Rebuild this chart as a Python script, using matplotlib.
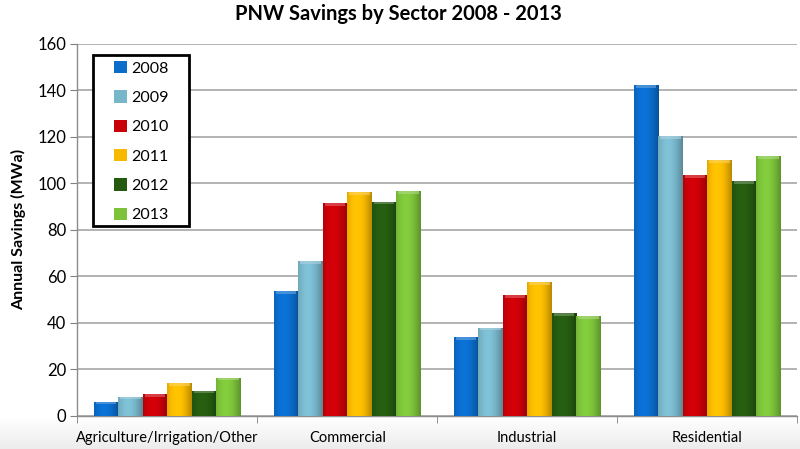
import numpy as np
import matplotlib
matplotlib.use("Agg")
import matplotlib.pyplot as plt
from matplotlib.colors import to_rgb
from matplotlib.patches import Rectangle

sectors = ["Agriculture/Irrigation/Other", "Commercial", "Industrial", "Residential"]
years = ["2008", "2009", "2010", "2011", "2012", "2013"]
savings_2008 = [6.1, 53.8, 33.8, 142.2]
savings_2009 = [8.3, 66.7, 38.0, 120.4]
savings_2010 = [9.5, 91.5, 51.9, 103.5]
savings_2011 = [14.3, 96.2, 57.6, 110.1]
savings_2012 = [10.9, 92.2, 44.2, 100.8]
savings_2013 = [16.5, 96.6, 43.0, 111.8]
series = [savings_2008, savings_2009, savings_2010, savings_2011, savings_2012, savings_2013]
colors = ["#0A6CCB", "#78B6CA", "#C80008", "#F7B800", "#245A10", "#7CC23A"]

plt.rcParams['font.family'] = ['Lato', 'DejaVu Sans']

W, H = 800, 449
fig = plt.figure(figsize=(W / 100, H / 100), dpi=100)
fig.patch.set_facecolor("white")

# soft gray band behind the category labels
bg = fig.add_axes([0, 0, 1, 1], zorder=-10)
grad = np.linspace(0.925, 1.0, 64).reshape(-1, 1)
bg.imshow(np.dstack([grad, grad, grad]), aspect="auto", extent=[0, 1, 0, 0.07],
          origin="lower")
bg.set_xlim(0, 1)
bg.set_ylim(0, 1)
bg.axis("off")

ax = fig.add_axes([0.0965, 0.0735, 0.9, 0.829])
ax.set_facecolor("none")

n = len(years)
bar_w = 1.0 / (n + 1.35)
x = np.arange(len(sectors))


def shaded(color):
    r, g, b = to_rgb(color)
    t = np.linspace(0, 1, 40)
    # lighter toward the left-centre, darker at the edges
    f = 0.78 + 0.32 * np.sin(np.pi * (0.15 + 0.8 * t)) - 0.08 * t
    img = np.clip(np.stack([np.outer(np.ones(2), r * f),
                            np.outer(np.ones(2), g * f),
                            np.outer(np.ones(2), b * f)], axis=-1), 0, 1)
    return img


for i, (vals, col) in enumerate(zip(series, colors)):
    offs = (i - (n - 1) / 2) * bar_w
    bars = ax.bar(x + offs, vals, width=bar_w, color=col, edgecolor="none",
                  label=years[i], zorder=3)
    for rect in bars:
        x0 = rect.get_x()
        h = rect.get_height()
        im = ax.imshow(shaded(col), aspect="auto",
                       extent=[x0, x0 + bar_w, 0, h], zorder=3.5,
                       interpolation="bilinear")
        im.set_clip_path(rect)
        cap_h = min(1.2, h * 0.15)
        r, g, b = to_rgb(col)
        light = (min(1, r * 0.6 + 0.4), min(1, g * 0.6 + 0.4), min(1, b * 0.6 + 0.4))
        ax.add_patch(Rectangle((x0 + bar_w * 0.08, h - cap_h), bar_w * 0.84, cap_h,
                               facecolor=light, edgecolor="none", alpha=0.6, zorder=4))

ax.set_xlim(-0.5, len(sectors) - 0.5)
ax.set_ylim(0, 160)
ax.set_yticks(np.arange(0, 161, 20))
ax.yaxis.grid(True, color="#A6A6A6", linewidth=1.2, zorder=0)
ax.set_axisbelow(True)

ax.set_xticks(x)
ax.set_xticklabels(sectors, fontsize=10.5)
ax.set_xticks(np.arange(-0.5, len(sectors), 1), minor=True)
ax.tick_params(axis="x", which="major", length=0, pad=11)
ax.tick_params(axis="x", which="minor", length=5, color="#808080", direction="out")
ax.tick_params(axis="y", length=5, color="#808080", labelsize=12, pad=3)

for s in ["top", "right"]:
    ax.spines[s].set_visible(False)
for s in ["left", "bottom"]:
    ax.spines[s].set_color("#8C8C8C")
    ax.spines[s].set_linewidth(1.0)

ax.set_ylabel("Annual Savings (MWa)", fontsize=11.5, fontweight="bold", labelpad=8)
fig.suptitle("PNW Savings by Sector 2008 - 2013", fontsize=14.5, fontweight="bold",
             x=0.498, y=0.99)

# legend frame drawn separately so the inner padding can be set per side
frame = Rectangle((93 / W, 1 - 226 / H), 96 / W, 171 / H, transform=fig.transFigure,
                  facecolor="white", edgecolor="black", linewidth=2.0,
                  zorder=9, clip_on=False)
ax.add_patch(frame)

leg = ax.legend(loc="upper left", bbox_to_anchor=(114 / W, 1 - 61 / H),
                bbox_transform=fig.transFigure, fontsize=11.5,
                frameon=False, handlelength=0.8, handleheight=0.8,
                handletextpad=0.3, labelspacing=0.92, borderpad=0.0,
                borderaxespad=0.0)
leg.set_zorder(10)

fig.savefig("out.png", dpi=100)
